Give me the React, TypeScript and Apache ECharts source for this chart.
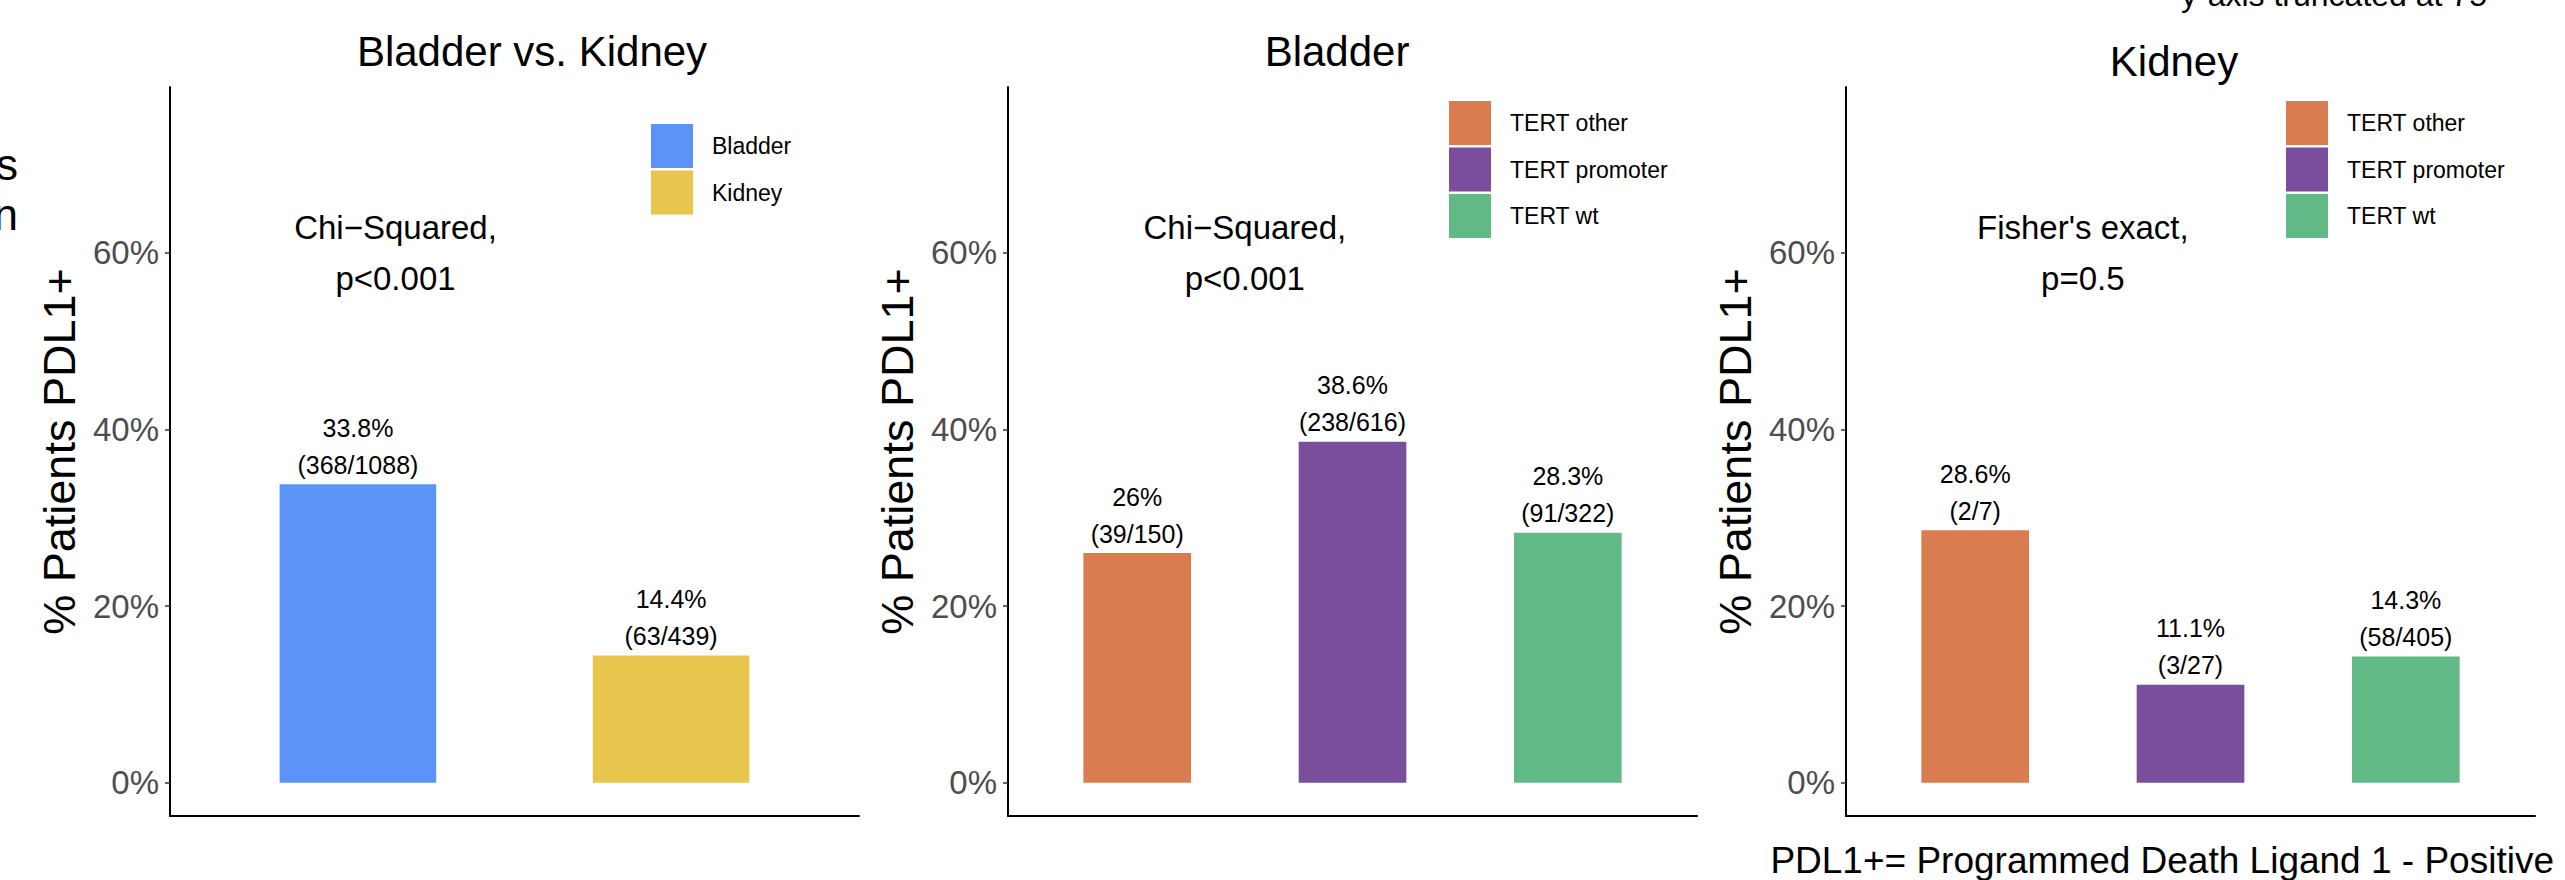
import React, { useEffect, useRef } from "react";
import * as echarts from "echarts";

const W = 2565;
const H = 880;
const FONT = "'Liberation Sans', Arial, Helvetica, sans-serif";

// ---- data ----
const panelTitles = ["Bladder vs. Kidney", "Bladder", "Kidney"];

const cats1 = ["Bladder", "Kidney"];
const vals1 = [33.8, 14.4];
const pos1 = [368, 63];
const tot1 = [1088, 439];
const colors1 = ["#5B93F6", "#E8C64E"];

const cats23 = ["TERT other", "TERT promoter", "TERT wt"];
const colors23 = ["#D97C4F", "#794E9A", "#61B985"];

const vals2 = [26, 38.6, 28.3];
const pos2 = [39, 238, 91];
const tot2 = [150, 616, 322];

const vals3 = [28.6, 11.1, 14.3];
const pos3 = [2, 3, 58];
const tot3 = [7, 27, 405];

const testLabels = [
  "Chi\u2212Squared,\np<0.001",
  "Chi\u2212Squared,\np<0.001",
  "Fisher's exact,\np=0.5",
];
const testX = [1.12, 1.5, 1.5];
const testY = [60, 60, 60];

const yTicks = [0, 20, 40, 60];
const yMin = -3.75;
const yMax = 78.75;
const yTitle = "% Patients PDL1+";
const footNote = "PDL1+= Programmed Death Ligand 1 - Positive";
const topNote = "y-axis truncated at 75";

// ---- layout ----
const GRID_LEFT = [170, 1008, 1846];
const GRID_TOP = 87;
const GRID_W = 689;
const GRID_H = 729;
const TITLE_X = [532, 1337, 2174];
const TITLE_CY = [51, 51.5, 61];
const LEGEND_POS = [
  { left: 651, top: 124 },
  { left: 1449, top: 101 },
  { left: 2286, top: 101 },
];

const panels = [
  { cats: cats1, vals: vals1, pos: pos1, tot: tot1, colors: colors1 },
  { cats: cats23, vals: vals2, pos: pos2, tot: tot2, colors: colors23 },
  { cats: cats23, vals: vals3, pos: pos3, tot: tot3, colors: colors23 },
];

function buildOption() {
  const grid: any[] = [];
  const xAxis: any[] = [];
  const yAxis: any[] = [];
  const series: any[] = [];
  const legend: any[] = [];
  const title: any[] = [];

  panels.forEach((p, i) => {
    const n = p.cats.length;
    grid.push({ left: GRID_LEFT[i], top: GRID_TOP, width: GRID_W, height: GRID_H, containLabel: false });
    xAxis.push({
      type: "value",
      gridIndex: i,
      min: 0.4,
      max: n + 0.6,
      axisLine: { show: true, onZero: false, lineStyle: { color: "#000", width: 2 } },
      axisTick: { show: false },
      axisLabel: { show: false },
      splitLine: { show: false },
    });
    yAxis.push({
      type: "value",
      gridIndex: i,
      min: yMin,
      max: yMax,
      name: yTitle,
      nameLocation: "middle",
      nameGap: 88,
      nameTextStyle: { fontSize: 45, color: "#000", fontFamily: FONT },
      axisLine: { show: true, onZero: false, lineStyle: { color: "#000", width: 2 } },
      axisTick: { show: true, length: 5, customValues: yTicks, lineStyle: { color: "#333", width: 1.5 } },
      axisLabel: {
        show: true,
        customValues: yTicks,
        formatter: (v: number) => `${v}%`,
        fontSize: 33,
        color: "#4D4D4D",
        fontFamily: FONT,
        margin: 11,
      },
      splitLine: { show: false },
    });
    const barW = (GRID_W * 0.5) / (n + 0.2);
    p.cats.forEach((c, j) => {
      series.push({
        type: "bar",
        name: c,
        xAxisIndex: i,
        yAxisIndex: i,
        barWidth: barW,
        barGap: "-100%",
        data: [[j + 1, p.vals[j]]],
        itemStyle: { color: p.colors[j] },
        label: {
          show: true,
          position: "top",
          distance: 1,
          formatter: () => `${p.vals[j]}%\n(${p.pos[j]}/${p.tot[j]})`,
          fontSize: 25,
          lineHeight: 37,
          color: "#000",
          fontFamily: FONT,
        },
      });
    });
    series.push({
      type: "scatter",
      xAxisIndex: i,
      yAxisIndex: i,
      silent: true,
      symbolSize: 1,
      itemStyle: { color: "#fff", opacity: 0 },
      data: [[testX[i], testY[i]]],
      label: {
        show: true,
        position: "inside",
        formatter: testLabels[i],
        fontSize: 33,
        lineHeight: 51,
        color: "#000",
        opacity: 1,
        textBorderWidth: 0,
        fontFamily: FONT,
        align: "center",
      },
    });
    legend.push({
      orient: "vertical",
      left: LEGEND_POS[i].left,
      top: LEGEND_POS[i].top,
      padding: 0,
      itemWidth: 42,
      itemHeight: 44,
      itemGap: 2.5,
      icon: "rect",
      selectedMode: false,
      data: p.cats,
      textStyle: { fontSize: 23, color: "#000", fontFamily: FONT, padding: [0, 0, 0, 14] },
    });
    title.push({
      text: panelTitles[i],
      left: TITLE_X[i],
      top: TITLE_CY[i] - 21,
      textAlign: "center",
      padding: 0,
      textStyle: { fontSize: 42, lineHeight: 42, fontWeight: "normal", color: "#000", fontFamily: FONT },
    });
  });

  return {
    animation: false,
    backgroundColor: "#fff",
    title,
    grid,
    xAxis,
    yAxis,
    legend,
    series,
    graphic: [
      {
        type: "text",
        x: 2554,
        y: 860.5,
        style: { text: footNote, fontSize: 37, fill: "#000", fontFamily: FONT, align: "right", verticalAlign: "middle" },
      },
      {
        type: "text",
        x: 2181,
        y: -5.5,
        style: { text: topNote, fontSize: 32, fill: "#000", fontFamily: FONT, align: "left", verticalAlign: "middle" },
      },
      {
        type: "text",
        x: 18,
        y: 189.6,
        style: { text: "s\nn", fontSize: 44, lineHeight: 50, fill: "#000", fontFamily: FONT, align: "right", verticalAlign: "middle" },
      },
    ],
  };
}

export default function App() {
  const ref = useRef<HTMLDivElement>(null);
  useEffect(() => {
    if (!ref.current) return;
    const chart = echarts.init(ref.current, undefined, { renderer: "svg", width: W, height: H });
    chart.setOption(buildOption() as any);
    return () => chart.dispose();
  }, []);
  return (
    <div
      ref={ref}
      style={{ position: "fixed", left: 0, top: 0, width: W, height: H, background: "#fff" }}
    />
  );
}
